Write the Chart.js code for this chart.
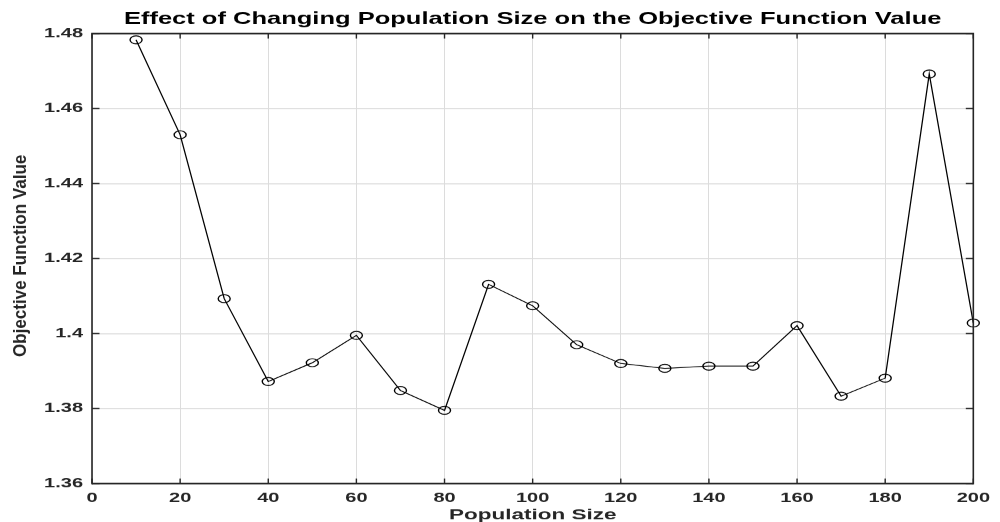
<!DOCTYPE html>
<html>
<head>
<meta charset="utf-8">
<script src="https://cdn.jsdelivr.net/npm/chart.js@4.4.0/dist/chart.umd.min.js"></script>
<style>
  html, body { margin: 0; padding: 0; background: #fff; overflow: hidden; }
  #c { display: block; width: 1000px; height: 522px; }
</style>
</head>
<body>
<!-- The drawing surface is taller than its on-screen box, so the figure is rendered
     with the same vertical compression as the exported figure. -->
<canvas id="c" width="1000" height="783" style="width:1000px;height:522px"></canvas>
<script>
// Population sizes tested and the resulting objective function values
const populationSizes = [10, 20, 30, 40, 50, 60, 70, 80, 90, 100,
                         110, 120, 130, 140, 150, 160, 170, 180, 190, 200];
const objectiveValues = [1.4783, 1.4530, 1.4093, 1.3872, 1.3922, 1.3995, 1.3848, 1.3795, 1.4131, 1.4074,
                         1.3970, 1.3920, 1.3907, 1.3913, 1.3913, 1.4021, 1.3833, 1.3881, 1.4692, 1.4028];

// Axis ticks
const xTickValues = [0, 20, 40, 60, 80, 100, 120, 140, 160, 180, 200];
const yTickValues = [1.36, 1.38, 1.40, 1.42, 1.44, 1.46, 1.48];
const yTickLabels = ['1.36', '1.38', '1.4', '1.42', '1.44', '1.46', '1.48'];

const chartTitle = 'Effect of Changing Population Size on the Objective Function Value';
const xTitle = 'Population Size';
const yTitle = 'Objective Function Value';

const SQUASH = 1.5;          // drawing units per on-screen pixel, vertically
const FONT = "'Liberation Sans', Arial, Helvetica, sans-serif";
const AXIS_COLOR = '#262626';

// Box around the axes with inward tick marks on all four sides, plus the y-axis title
const axesFrame = {
  id: 'axesFrame',
  afterDraw(chart) {
    const {ctx, chartArea: a, scales: {x, y}} = chart;
    const tick = 7.5;
    ctx.save();
    ctx.strokeStyle = AXIS_COLOR;
    // tick marks
    ctx.lineWidth = 1.4;
    xTickValues.forEach(v => {
      const px = x.getPixelForValue(v);
      ctx.beginPath();
      ctx.moveTo(px, a.bottom); ctx.lineTo(px, a.bottom - tick);
      ctx.moveTo(px, a.top); ctx.lineTo(px, a.top + tick);
      ctx.stroke();
    });
    ctx.lineWidth = 1.4 * SQUASH;
    yTickValues.forEach(v => {
      const py = y.getPixelForValue(v);
      ctx.beginPath();
      ctx.moveTo(a.left, py); ctx.lineTo(a.left + tick, py);
      ctx.moveTo(a.right, py); ctx.lineTo(a.right - tick, py);
      ctx.stroke();
    });
    // frame: horizontal edges
    ctx.lineWidth = 1.6 * SQUASH;
    ctx.beginPath();
    ctx.moveTo(a.left, a.top); ctx.lineTo(a.right, a.top);
    ctx.moveTo(a.left, a.bottom); ctx.lineTo(a.right, a.bottom);
    ctx.stroke();
    // frame: vertical edges
    ctx.lineWidth = 1.6;
    ctx.beginPath();
    ctx.moveTo(a.left, a.top - 0.8 * SQUASH); ctx.lineTo(a.left, a.bottom + 0.8 * SQUASH);
    ctx.moveTo(a.right, a.top - 0.8 * SQUASH); ctx.lineTo(a.right, a.bottom + 0.8 * SQUASH);
    ctx.stroke();

    // y-axis title, rotated; stretched along its length to offset the vertical compression
    ctx.translate(21, (a.top + a.bottom) / 2 - 4);
    ctx.rotate(-Math.PI / 2);
    ctx.scale(1.38, 1);
    ctx.fillStyle = AXIS_COLOR;
    ctx.font = `bold 18.5px ${FONT}`;
    ctx.textAlign = 'center';
    ctx.textBaseline = 'middle';
    ctx.fillText(yTitle, 0, 0);
    ctx.restore();
  }
};

new Chart(document.getElementById('c'), {
  type: 'line',
  data: {
    datasets: [{
      data: populationSizes.map((p, i) => ({x: p, y: objectiveValues[i]})),
      borderColor: '#000',
      borderWidth: 1.3,
      tension: 0,
      fill: false,
      pointStyle: 'circle',
      pointRadius: 6,
      pointBorderWidth: 1.4,
      pointBorderColor: '#000',
      pointBackgroundColor: 'rgba(0,0,0,0)',
      clip: false
    }]
  },
  options: {
    responsive: false,
    animation: false,
    events: [],
    layout: { padding: { left: 0, right: 18, top: 0, bottom: 0 } },
    plugins: {
      legend: { display: false },
      tooltip: { enabled: false },
      title: {
        display: true,
        text: chartTitle,
        fullSize: false,
        color: '#000',
        font: { family: FONT, size: 25.5, weight: 'bold', lineHeight: 1.2 },
        padding: { top: 13.5, bottom: 6.15 }
      }
    },
    scales: {
      x: {
        type: 'linear',
        position: 'bottom',
        min: 0,
        max: 200,
        afterBuildTicks: s => { s.ticks = xTickValues.map(v => ({value: v})); },
        afterFit: s => { s.height = 783 - 725.25; },
        grid: { color: '#dcdcdc', lineWidth: 1, drawTicks: false },
        border: { display: false },
        ticks: {
          color: AXIS_COLOR,
          font: { family: FONT, size: 20, weight: 'bold' },
          padding: 10,
          maxRotation: 0,
          autoSkip: false
        },
        title: {
          display: true,
          text: xTitle,
          color: AXIS_COLOR,
          font: { family: FONT, size: 22.5, weight: 'bold', lineHeight: 1 },
          padding: { top: 0, bottom: -1.25 }
        }
      },
      y: {
        type: 'linear',
        min: 1.36,
        max: 1.48,
        afterBuildTicks: s => { s.ticks = yTickValues.map(v => ({value: v})); },
        afterFit: s => { s.width = 92; },
        grid: { color: '#dcdcdc', lineWidth: 1.5, drawTicks: false },
        border: { display: false },
        ticks: {
          color: AXIS_COLOR,
          font: { family: FONT, size: 20, weight: 'bold' },
          padding: 9,
          callback: (v, i) => yTickLabels[i]
        }
      }
    }
  },
  plugins: [axesFrame]
});
</script>
</body>
</html>
